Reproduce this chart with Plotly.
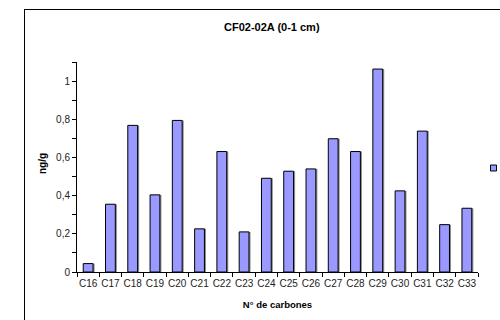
import plotly.graph_objects as go

categories = ["C16", "C17", "C18", "C19", "C20", "C21", "C22", "C23", "C24",
              "C25", "C26", "C27", "C28", "C29", "C30", "C31", "C32", "C33"]
values = [0.044, 0.355, 0.768, 0.404, 0.794, 0.226, 0.631, 0.21, 0.491,
          0.528, 0.54, 0.698, 0.631, 1.063, 0.425, 0.738, 0.248, 0.334]
ytick_vals = [0, 0.2, 0.4, 0.6, 0.8, 1]
ytick_text = ["0", "0,2", "0,4", "0,6", "0,8", "1"]

W, H = 500, 320
L, R, T, B = 77, 22, 62, 48
pw, ph = W - L - R, H - T - B

def px_x(x):
    return (x - L) / pw

def px_y(y):
    return (H - B - y) / ph

bw = 0.44
fig = go.Figure()
# shadow
fig.add_trace(go.Bar(x=categories, y=values, width=bw, offset=-bw / 2 + 0.07,
                     marker=dict(color="#8c8c8c", line=dict(width=0)),
                     showlegend=False, hoverinfo="skip"))
fig.add_trace(go.Bar(x=categories, y=values, width=bw, offset=-bw / 2,
                     marker=dict(color="#9999FF", line=dict(color="#000000", width=1)),
                     showlegend=False))

font = "Liberation Sans, Arial, sans-serif"
fig.update_layout(
    width=W, height=H,
    margin=dict(l=L, r=R, t=T, b=B, autoexpand=False),
    paper_bgcolor="white", plot_bgcolor="white",
    barmode="overlay",
    showlegend=False,
    font=dict(family=font, size=10, color="#000000"),
    xaxis=dict(
        type="category", tickson="boundaries", ticks="outside", ticklen=4,
        tickcolor="#000", showline=True, linecolor="#000", linewidth=1,
        showgrid=False, tickfont=dict(size=10, color="#222"), tickangle=0,
        ticklabelstandoff=2,
        title=dict(text="<b>N° de carbones</b>", font=dict(size=9.5), standoff=13),
        range=[-0.5, 17.5],
    ),
    yaxis=dict(
        range=[0, 1.1], tickvals=ytick_vals, ticktext=ytick_text,
        ticks="outside", ticklen=4, tickcolor="#000",
        showline=True, linecolor="#000", linewidth=1, showgrid=False,
        zeroline=False, tickfont=dict(size=10, color="#222"),
        minor=dict(tickvals=[0.1, 0.3, 0.5, 0.7, 0.9, 1.1], ticks="outside",
                   ticklen=4, tickcolor="#000"),
    ),
    shapes=[
        dict(type="rect", xref="paper", yref="paper",
             x0=px_x(490.5), x1=px_x(496.5), y0=px_y(171), y1=px_y(165),
             line=dict(color="#000", width=1), fillcolor="#9999FF"),
    ],
    annotations=[
        dict(text="<b>CF02-02A (0-1 cm)</b>", xref="paper", yref="paper",
             x=px_x(271.5), y=px_y(27.5), showarrow=False,
             font=dict(size=11), xanchor="center", yanchor="middle"),
        dict(text="<b>ng/g</b>", xref="paper", yref="paper",
             x=px_x(42), y=px_y(164), showarrow=False, textangle=-90,
             font=dict(size=10), xanchor="center", yanchor="middle"),
    ],
)

frame_js = (
    "document.body.style.margin='0';"
    "document.body.style.overflow='hidden';"
    "var f=document.createElement('div');"
    "f.style.cssText='position:fixed;left:24px;top:9px;width:500px;height:400px;"
    "border:1px solid #000;pointer-events:none;z-index:10000;box-sizing:border-box;';"
    "document.body.appendChild(f);"
)
fig.write_html("out.html", config={"displayModeBar": False}, post_script=frame_js)
